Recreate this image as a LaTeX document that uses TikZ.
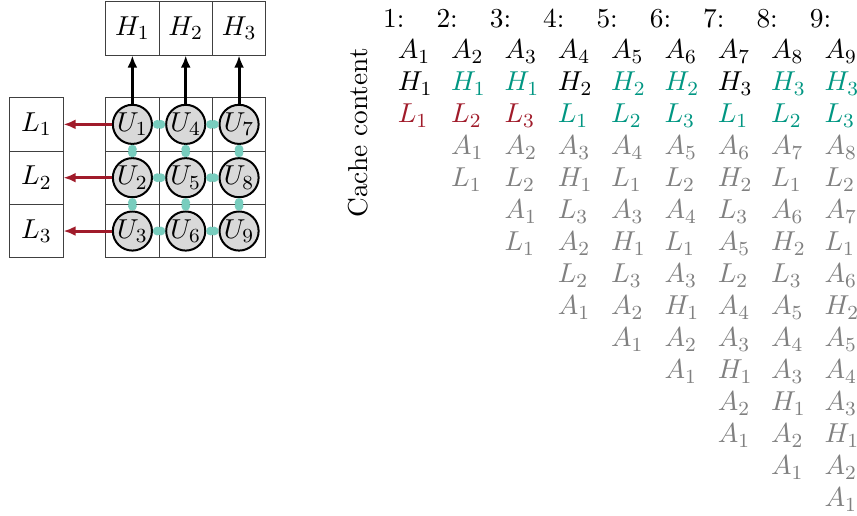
\documentclass[tikz,border=0pt,11pt]{standalone}
\usetikzlibrary{arrows.meta}

\definecolor{missred}{RGB}{160,27,42}
\definecolor{hitteal}{RGB}{0,150,130}
\definecolor{linkteal}{RGB}{120,205,190}

\begin{document}
\begin{tikzpicture}
[
	box/.style={draw=black!75,minimum size=0.75cm,inner sep=0pt},
	unit/.style={circle,draw,thick,fill=gray!30,minimum size=0.55cm,inner sep=0pt},
	link/.style={line width=2.1pt,draw=linkteal,{Circle[length=3.4pt]}-{Circle[length=3.4pt]}},
	toh/.style={-{Latex[length=1.7mm,width=1.4mm]},line width=1.2pt},
	tol/.style={-{Latex[length=1.7mm,width=1.4mm]},line width=1.2pt,draw=missred},
	entry/.style={anchor=base west,inner sep=0pt},
	old/.style={entry,text=gray},
	hit/.style={entry,text=hitteal},
	miss/.style={entry,text=missred}
]

\useasboundingbox (-1.862,1.749) rectangle (10.19,-5.494);

% grid of units
\node[box](c1) at (0,0) {};
\node[box](c2) at (0,-0.75) {};
\node[box](c3) at (0,-1.5) {};
\node[box](c4) at (0.75,0) {};
\node[box](c5) at (0.75,-0.75) {};
\node[box](c6) at (0.75,-1.5) {};
\node[box](c7) at (1.5,0) {};
\node[box](c8) at (1.5,-0.75) {};
\node[box](c9) at (1.5,-1.5) {};

\node[box](h1) at (0,1.35) {$H_1$};
\node[box](h2) at (0.75,1.35) {$H_2$};
\node[box](h3) at (1.5,1.35) {$H_3$};

\node[box](l1) at (-1.35,0) {$L_1$};
\node[box](l2) at (-1.35,-0.75) {$L_2$};
\node[box](l3) at (-1.35,-1.5) {$L_3$};

\node[unit](u1) at (0,0) {$U_1$};
\node[unit](u2) at (0,-0.75) {$U_2$};
\node[unit](u3) at (0,-1.5) {$U_3$};
\node[unit](u4) at (0.75,0) {$U_4$};
\node[unit](u5) at (0.75,-0.75) {$U_5$};
\node[unit](u6) at (0.75,-1.5) {$U_6$};
\node[unit](u7) at (1.5,0) {$U_7$};
\node[unit](u8) at (1.5,-0.75) {$U_8$};
\node[unit](u9) at (1.5,-1.5) {$U_9$};

\draw[link] (u1) -- (u4);
\draw[link] (u4) -- (u7);
\draw[link] (u2) -- (u5);
\draw[link] (u5) -- (u8);
\draw[link] (u3) -- (u6);
\draw[link] (u6) -- (u9);
\draw[link] (u1) -- (u2);
\draw[link] (u2) -- (u3);
\draw[link] (u4) -- (u5);
\draw[link] (u5) -- (u6);
\draw[link] (u7) -- (u8);
\draw[link] (u8) -- (u9);

\draw[toh] (u1.north) -- (h1.south);
\draw[toh] (u4.north) -- (h2.south);
\draw[toh] (u7.north) -- (h3.south);

\draw[tol] (u1.west) -- (l1.east);
\draw[tol] (u2.west) -- (l2.east);
\draw[tol] (u3.west) -- (l3.east);


% cache content per step
\node[rotate=90](cache) at (3.17,-0.12) {Cache content};

\node[entry](t1) at (3.52,1.366) {1:};
\node[entry](t2) at (4.27,1.366) {2:};
\node[entry](t3) at (5.02,1.366) {3:};
\node[entry](t4) at (5.77,1.366) {4:};
\node[entry](t5) at (6.52,1.366) {5:};
\node[entry](t6) at (7.27,1.366) {6:};
\node[entry](t7) at (8.02,1.366) {7:};
\node[entry](t8) at (8.77,1.366) {8:};
\node[entry](t9) at (9.52,1.366) {9:};

\node[entry](e1-0) at (3.726,0.92) {$A_1$};
\node[entry](e1-1) at (3.726,0.47) {$H_1$};
\node[miss](e1-2) at (3.726,0.02) {$L_1$};

\node[entry](e2-0) at (4.476,0.92) {$A_2$};
\node[hit](e2-1) at (4.476,0.47) {$H_1$};
\node[miss](e2-2) at (4.476,0.02) {$L_2$};
\node[old](e2-3) at (4.476,-0.43) {$A_1$};
\node[old](e2-4) at (4.476,-0.88) {$L_1$};

\node[entry](e3-0) at (5.226,0.92) {$A_3$};
\node[hit](e3-1) at (5.226,0.47) {$H_1$};
\node[miss](e3-2) at (5.226,0.02) {$L_3$};
\node[old](e3-3) at (5.226,-0.43) {$A_2$};
\node[old](e3-4) at (5.226,-0.88) {$L_2$};
\node[old](e3-5) at (5.226,-1.33) {$A_1$};
\node[old](e3-6) at (5.226,-1.78) {$L_1$};

\node[entry](e4-0) at (5.976,0.92) {$A_4$};
\node[entry](e4-1) at (5.976,0.47) {$H_2$};
\node[hit](e4-2) at (5.976,0.02) {$L_1$};
\node[old](e4-3) at (5.976,-0.43) {$A_3$};
\node[old](e4-4) at (5.976,-0.88) {$H_1$};
\node[old](e4-5) at (5.976,-1.33) {$L_3$};
\node[old](e4-6) at (5.976,-1.78) {$A_2$};
\node[old](e4-7) at (5.976,-2.23) {$L_2$};
\node[old](e4-8) at (5.976,-2.68) {$A_1$};

\node[entry](e5-0) at (6.726,0.92) {$A_5$};
\node[hit](e5-1) at (6.726,0.47) {$H_2$};
\node[hit](e5-2) at (6.726,0.02) {$L_2$};
\node[old](e5-3) at (6.726,-0.43) {$A_4$};
\node[old](e5-4) at (6.726,-0.88) {$L_1$};
\node[old](e5-5) at (6.726,-1.33) {$A_3$};
\node[old](e5-6) at (6.726,-1.78) {$H_1$};
\node[old](e5-7) at (6.726,-2.23) {$L_3$};
\node[old](e5-8) at (6.726,-2.68) {$A_2$};
\node[old](e5-9) at (6.726,-3.13) {$A_1$};

\node[entry](e6-0) at (7.476,0.92) {$A_6$};
\node[hit](e6-1) at (7.476,0.47) {$H_2$};
\node[hit](e6-2) at (7.476,0.02) {$L_3$};
\node[old](e6-3) at (7.476,-0.43) {$A_5$};
\node[old](e6-4) at (7.476,-0.88) {$L_2$};
\node[old](e6-5) at (7.476,-1.33) {$A_4$};
\node[old](e6-6) at (7.476,-1.78) {$L_1$};
\node[old](e6-7) at (7.476,-2.23) {$A_3$};
\node[old](e6-8) at (7.476,-2.68) {$H_1$};
\node[old](e6-9) at (7.476,-3.13) {$A_2$};
\node[old](e6-10) at (7.476,-3.58) {$A_1$};

\node[entry](e7-0) at (8.226,0.92) {$A_7$};
\node[entry](e7-1) at (8.226,0.47) {$H_3$};
\node[hit](e7-2) at (8.226,0.02) {$L_1$};
\node[old](e7-3) at (8.226,-0.43) {$A_6$};
\node[old](e7-4) at (8.226,-0.88) {$H_2$};
\node[old](e7-5) at (8.226,-1.33) {$L_3$};
\node[old](e7-6) at (8.226,-1.78) {$A_5$};
\node[old](e7-7) at (8.226,-2.23) {$L_2$};
\node[old](e7-8) at (8.226,-2.68) {$A_4$};
\node[old](e7-9) at (8.226,-3.13) {$A_3$};
\node[old](e7-10) at (8.226,-3.58) {$H_1$};
\node[old](e7-11) at (8.226,-4.03) {$A_2$};
\node[old](e7-12) at (8.226,-4.48) {$A_1$};

\node[entry](e8-0) at (8.976,0.92) {$A_8$};
\node[hit](e8-1) at (8.976,0.47) {$H_3$};
\node[hit](e8-2) at (8.976,0.02) {$L_2$};
\node[old](e8-3) at (8.976,-0.43) {$A_7$};
\node[old](e8-4) at (8.976,-0.88) {$L_1$};
\node[old](e8-5) at (8.976,-1.33) {$A_6$};
\node[old](e8-6) at (8.976,-1.78) {$H_2$};
\node[old](e8-7) at (8.976,-2.23) {$L_3$};
\node[old](e8-8) at (8.976,-2.68) {$A_5$};
\node[old](e8-9) at (8.976,-3.13) {$A_4$};
\node[old](e8-10) at (8.976,-3.58) {$A_3$};
\node[old](e8-11) at (8.976,-4.03) {$H_1$};
\node[old](e8-12) at (8.976,-4.48) {$A_2$};
\node[old](e8-13) at (8.976,-4.93) {$A_1$};

\node[entry](e9-0) at (9.726,0.92) {$A_9$};
\node[hit](e9-1) at (9.726,0.47) {$H_3$};
\node[hit](e9-2) at (9.726,0.02) {$L_3$};
\node[old](e9-3) at (9.726,-0.43) {$A_8$};
\node[old](e9-4) at (9.726,-0.88) {$L_2$};
\node[old](e9-5) at (9.726,-1.33) {$A_7$};
\node[old](e9-6) at (9.726,-1.78) {$L_1$};
\node[old](e9-7) at (9.726,-2.23) {$A_6$};
\node[old](e9-8) at (9.726,-2.68) {$H_2$};
\node[old](e9-9) at (9.726,-3.13) {$A_5$};
\node[old](e9-10) at (9.726,-3.58) {$A_4$};
\node[old](e9-11) at (9.726,-4.03) {$A_3$};
\node[old](e9-12) at (9.726,-4.48) {$H_1$};
\node[old](e9-13) at (9.726,-4.93) {$A_2$};
\node[old](e9-14) at (9.726,-5.38) {$A_1$};

\end{tikzpicture}
\end{document}
